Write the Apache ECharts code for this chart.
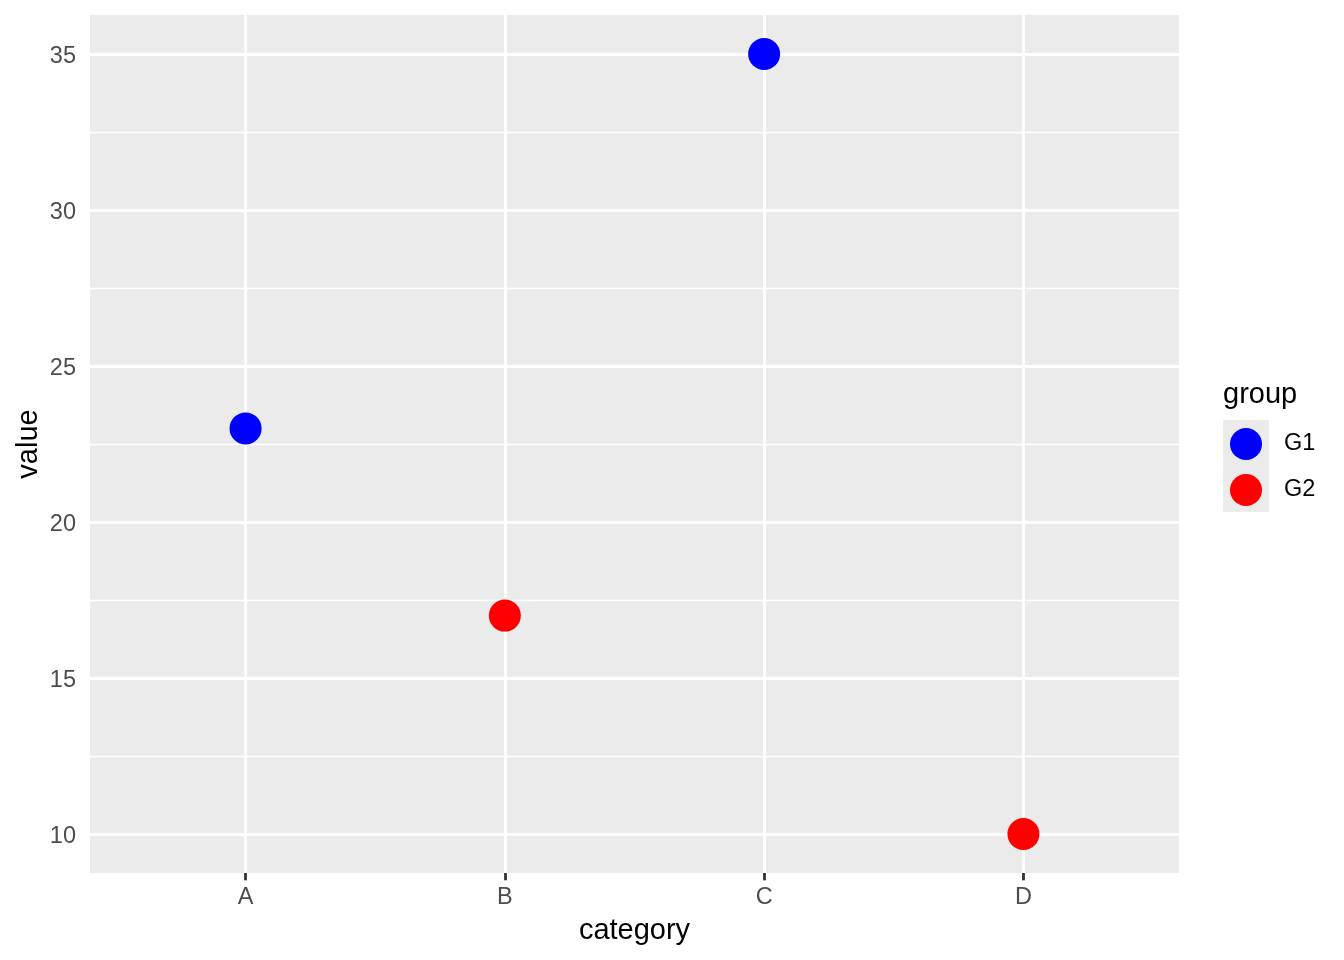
<!DOCTYPE html>
<html>
<head>
<meta charset="utf-8">
<script src="https://cdn.jsdelivr.net/npm/echarts@6/dist/echarts.min.js"></script>
<style>
html,body{margin:0;padding:0;background:#fff;}
#chart{width:1344px;height:960px;}
</style>
</head>
<body>
<div id="chart"></div>
<script>
// ---- data ----
const categories = ['A', 'B', 'C', 'D'];
const groups = ['G1', 'G2'];
const g1Points = [['A', 23], ['C', 35]];
const g2Points = [['B', 17], ['D', 10]];
const yMajorTicks = [10, 15, 20, 25, 30, 35];
const yMinorLines = [12.5, 17.5, 22.5, 27.5, 32.5];
const groupColors = ['#0000FF', '#FF0000'];
const yLimits = [8.75, 36.25];
const xExpand = 0.6;

const FONT = '"Liberation Sans", Arial, Helvetica, sans-serif';
const catIndex = c => categories.indexOf(c);
const toXY = pts => pts.map(p => [catIndex(p[0]), p[1]]);
const xTickValues = categories.map((c, i) => i);

const gridLineData = []
  .concat(yMinorLines.map(v => ({ yAxis: v, lineStyle: { color: '#FFFFFF', width: 1.4, type: 'solid' } })))
  .concat(yMajorTicks.map(v => ({ yAxis: v, lineStyle: { color: '#FFFFFF', width: 2.8, type: 'solid' } })))
  .concat(xTickValues.map(v => ({ xAxis: v, lineStyle: { color: '#FFFFFF', width: 2.8, type: 'solid' } })));

const chart = echarts.init(document.getElementById('chart'), null, { renderer: 'canvas' });
chart.setOption({
  animation: false,
  backgroundColor: '#FFFFFF',
  textStyle: { fontFamily: FONT },
  title: {
    text: 'group',
    left: 1223,
    top: 380,
    padding: 0,
    textStyle: { fontFamily: FONT, fontSize: 29, fontWeight: 'normal', color: '#000000', lineHeight: 29 }
  },
  graphic: [{
    type: 'rect',
    left: 1223,
    top: 420,
    z: 0,
    shape: { width: 46, height: 92 },
    style: { fill: '#EBEBEB' }
  }],
  legend: {
    data: groups,
    orient: 'vertical',
    left: 1230,
    top: 428,
    padding: 0,
    itemWidth: 32,
    itemHeight: 32,
    itemGap: 14,
    icon: 'circle',
    z: 10,
    selectedMode: false,
    textStyle: { fontFamily: FONT, fontSize: 23.5, color: '#000000', padding: [0, 0, 0, 17] }
  },
  grid: {
    left: 90,
    top: 15,
    width: 1089,
    height: 858,
    show: true,
    backgroundColor: '#EBEBEB',
    borderWidth: 0,
    containLabel: false
  },
  xAxis: {
    type: 'value',
    min: -xExpand,
    max: categories.length - 1 + xExpand,
    name: 'category',
    nameLocation: 'middle',
    nameGap: 43,
    nameMoveOverlap: false,
    nameTextStyle: { fontFamily: FONT, fontSize: 29, color: '#000000' },
    axisLine: { show: false },
    splitLine: { show: false },
    axisTick: {
      show: true,
      customValues: xTickValues,
      length: 7.3,
      lineStyle: { color: '#333333', width: 2.8 }
    },
    axisLabel: {
      customValues: xTickValues,
      margin: 13,
      fontFamily: FONT,
      fontSize: 23.5,
      color: '#4D4D4D',
      formatter: v => categories[Math.round(v)] || ''
    }
  },
  yAxis: {
    type: 'value',
    min: yLimits[0],
    max: yLimits[1],
    name: 'value',
    nameLocation: 'middle',
    nameGap: 47,
    nameMoveOverlap: false,
    nameRotate: 90,
    nameTextStyle: { fontFamily: FONT, fontSize: 29, color: '#000000' },
    axisLine: { show: false },
    splitLine: { show: false },
    axisTick: {
      show: true,
      customValues: yMajorTicks,
      length: 7.3,
      lineStyle: { color: '#333333', width: 2.8 }
    },
    axisLabel: {
      customValues: yMajorTicks,
      margin: 14,
      verticalAlign: 'top',
      lineHeight: 6,
      fontFamily: FONT,
      fontSize: 23.5,
      color: '#4D4D4D'
    }
  },
  series: [
    {
      name: '_grid',
      type: 'scatter',
      data: [],
      z: 1,
      silent: true,
      markLine: {
        silent: true,
        symbol: ['none', 'none'],
        label: { show: false },
        animation: false,
        data: gridLineData
      }
    },
    {
      name: groups[0],
      type: 'scatter',
      z: 5,
      symbol: 'circle',
      symbolSize: 32,
      itemStyle: { color: groupColors[0], opacity: 1 },
      data: toXY(g1Points)
    },
    {
      name: groups[1],
      type: 'scatter',
      z: 5,
      symbol: 'circle',
      symbolSize: 32,
      itemStyle: { color: groupColors[1], opacity: 1 },
      data: toXY(g2Points)
    }
  ]
});
</script>
</body>
</html>
